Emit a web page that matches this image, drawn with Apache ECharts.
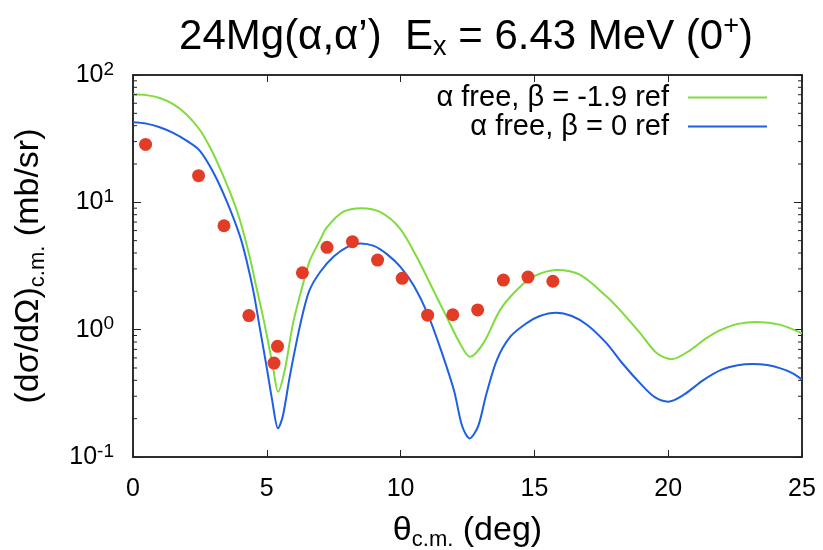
<!DOCTYPE html>
<html>
<head>
<meta charset="utf-8">
<script src="https://cdn.jsdelivr.net/npm/echarts@6/dist/echarts.min.js"></script>
<style>
  html, body { margin: 0; padding: 0; background: #fff; }
  #chart { width: 823px; height: 550px; }
</style>
</head>
<body>
<div id="chart"></div>
<script>
// Measured cross sections, 24Mg(α,α') to the 6.43 MeV 0+ state
const thetaExp = [0.47, 2.45, 3.40, 4.33, 5.27, 5.40, 6.33, 7.25, 8.20, 9.14, 10.06, 11.01, 11.95, 12.88, 13.84, 14.76, 15.69];
const sigmaExp = [28.5, 16.2, 6.55, 1.29, 0.547, 0.74, 2.80, 4.43, 4.91, 3.52, 2.53, 1.30, 1.31, 1.43, 2.45, 2.59, 2.40];

// Calculation: α free, β = -1.9 ref
const thetaGreen = [0, 0.5, 1.0, 1.5, 2.0, 2.5, 2.93, 3.3, 3.74, 4.0, 4.36, 4.6, 4.86, 5.05, 5.23, 5.42, 5.67, 5.98, 6.36, 6.61, 7.0, 7.23, 7.85, 8.54, 9.23, 9.97, 10.6, 11.22, 11.72, 12.22, 12.59, 13.09, 13.72, 14.34, 14.96, 15.84, 16.71, 17.71, 18.3, 18.96, 19.58, 20.14, 20.83, 21.4, 21.95, 22.6, 23.32, 24.2, 25];
const sigmaGreen = [70.5, 69.5, 66, 59, 49, 37, 25.8, 17.5, 10.4, 7.2, 3.74, 2.2, 1.26, 0.8, 0.51, 0.325, 0.48, 1.12, 2.31, 3.5, 5.1, 6.3, 8.4, 8.98, 8.4, 6.25, 3.74, 2.05, 1.26, 0.78, 0.612, 0.78, 1.43, 2.05, 2.61, 2.94, 2.69, 1.81, 1.35, 0.935, 0.652, 0.587, 0.692, 0.85, 0.993, 1.11, 1.15, 1.09, 0.935];

// Calculation: α free, β = 0 ref
const thetaBlue = [0, 0.5, 1.0, 1.5, 2.0, 2.5, 3.0, 3.5, 4.0, 4.25, 4.5, 4.75, 5.0, 5.2, 5.42, 5.6, 5.85, 6.1, 6.35, 6.6, 7.0, 7.5, 8.0, 8.5, 9.0, 9.5, 10.0, 10.5, 11.0, 11.5, 12.0, 12.3, 12.58, 12.9, 13.2, 13.6, 14.1, 14.7, 15.2, 15.8, 16.4, 17.0, 17.7, 18.3, 19.0, 19.5, 20.0, 20.6, 21.3, 22.0, 22.6, 23.15, 23.7, 24.2, 24.6, 25];
const sigmaBlue = [42.5, 41.5, 38.9, 35.1, 30.5, 25.4, 17.2, 10.2, 5.4, 3.45, 2.0, 1.0, 0.5, 0.28, 0.168, 0.21, 0.42, 0.78, 1.35, 2.05, 2.85, 3.75, 4.45, 4.76, 4.55, 3.9, 3.1, 2.2, 1.35, 0.7, 0.33, 0.175, 0.14, 0.175, 0.31, 0.58, 0.88, 1.12, 1.28, 1.36, 1.28, 1.08, 0.78, 0.54, 0.37, 0.295, 0.272, 0.31, 0.40, 0.485, 0.525, 0.537, 0.527, 0.497, 0.46, 0.407];

const legendNames = ['α free, β = -1.9 ref', 'α free, β = 0 ref'];
const xTicks = [0, 5, 10, 15, 20, 25];
const yDecades = [-1, 0, 1, 2];

const FONT = 'Liberation Sans';
const AXIS_COLOR = '#222';
const GREEN = '#7fdc3c';
const BLUE = '#1f5fe6';
const RED = '#e23b26';

function pairs(xs, ys) { return xs.map((x, i) => [x, ys[i]]); }

// minor log ticks at 2..9 of every decade
const minorTicks = [];
for (let d = yDecades[0]; d < yDecades[yDecades.length - 1]; d++) {
  for (let k = 2; k <= 9; k++) minorTicks.push([xTicks[0], k * Math.pow(10, d)]);
}

const chart = echarts.init(document.getElementById('chart'), null, { renderer: 'canvas' });

const axisLine = { show: true, onZero: false, lineStyle: { color: AXIS_COLOR, width: 1.5 } };
const tick = (len) => ({ show: true, inside: true, length: len, lineStyle: { color: AXIS_COLOR, width: 1 } });

chart.setOption({
  backgroundColor: '#fff',
  animation: false,
  title: {
    text: "{a|24Mg(α,α’)  E}{s|x}{a| = 6.43 MeV (0}{p|+}{a|)}",
    left: 461,
    textAlign: 'center',
    top: 8,
    textStyle: {
      fontWeight: 'normal',
      rich: {
        a: { fontFamily: FONT, fontSize: 42, fontWeight: 'normal', color: '#000', lineHeight: 48 },
        s: { fontFamily: FONT, fontSize: 27, fontWeight: 'normal', color: '#000', lineHeight: 20, verticalAlign: 'bottom' },
        p: { fontFamily: FONT, fontSize: 27, fontWeight: 'normal', color: '#000', lineHeight: 18, verticalAlign: 'top' }
      }
    }
  },
  grid: {
    left: 133, right: 21, top: 75, bottom: 93,
    containLabel: false, outerBoundsMode: 'none',
    show: true, borderColor: AXIS_COLOR, borderWidth: 1.5, backgroundColor: 'transparent'
  },
  legend: {
    data: legendNames,
    orient: 'vertical',
    align: 'right',
    right: 56,
    top: 83,
    padding: 0,
    icon: 'rect',
    itemWidth: 79,
    itemHeight: 2,
    itemGap: 0,
    textStyle: { fontFamily: FONT, fontSize: 29, color: '#000', lineHeight: 29, padding: [0, 14, 0, 0] }
  },
  xAxis: [{
    type: 'value',
    min: 0, max: 25, interval: 5,
    position: 'bottom',
    axisLine: axisLine,
    axisTick: tick(7),
    axisLabel: { fontFamily: FONT, fontSize: 25, color: '#000', margin: 20 },
    splitLine: { show: false },
    name: '{t|θ}{s|c.m.}{t| (deg)}',
    nameLocation: 'middle',
    nameGap: 54,
    nameTextStyle: {
      rich: {
        t: { fontFamily: FONT, fontSize: 34, color: '#000', lineHeight: 40 },
        s: { fontFamily: FONT, fontSize: 22, color: '#000', lineHeight: 18, verticalAlign: 'bottom' }
      }
    }
  }, {
    type: 'value',
    min: 0, max: 25, interval: 5,
    position: 'top',
    axisLine: axisLine,
    axisTick: tick(7),
    axisLabel: { show: false },
    splitLine: { show: false }
  }],
  yAxis: [{
    type: 'log',
    logBase: 10,
    min: 0.1, max: 100,
    position: 'left',
    axisLine: axisLine,
    axisTick: tick(8),
    axisLabel: {
      margin: 19,
      formatter: function (v) {
        const e = Math.round(Math.log10(v));
        return '{b|10}{e|' + e + '}';
      },
      rich: {
        b: { fontFamily: FONT, fontSize: 25, color: '#000', lineHeight: 30 },
        e: { fontFamily: FONT, fontSize: 19, color: '#000', lineHeight: 12, verticalAlign: 'top' }
      }
    },
    splitLine: { show: false },
    name: '{t|(dσ/dΩ)}{s|c.m.}{t| (mb/sr)}',
    nameLocation: 'middle',
    nameRotate: 90,
    nameGap: 84,
    nameTextStyle: {
      rich: {
        t: { fontFamily: FONT, fontSize: 34, color: '#000', lineHeight: 40 },
        s: { fontFamily: FONT, fontSize: 22, color: '#000', lineHeight: 18, verticalAlign: 'bottom' }
      }
    }
  }, {
    type: 'log',
    logBase: 10,
    min: 0.1, max: 100,
    position: 'right',
    axisLine: axisLine,
    axisTick: tick(8),
    axisLabel: { show: false },
    splitLine: { show: false }
  }],
  series: [{
    name: legendNames[0],
    type: 'line',
    data: pairs(thetaGreen, sigmaGreen),
    symbol: 'none',
    smooth: 0.3,
    lineStyle: { color: GREEN, width: 2 },
    itemStyle: { color: GREEN },
    z: 3
  }, {
    name: legendNames[1],
    type: 'line',
    data: pairs(thetaBlue, sigmaBlue),
    symbol: 'none',
    smooth: 0.3,
    lineStyle: { color: BLUE, width: 2 },
    itemStyle: { color: BLUE },
    z: 3
  }, {
    name: 'data',
    type: 'scatter',
    data: pairs(thetaExp, sigmaExp),
    symbol: 'circle',
    symbolSize: 13,
    itemStyle: { color: RED, opacity: 1 },
    z: 5
  }, {
    name: 'minor ticks',
    type: 'custom',
    silent: true,
    data: minorTicks,
    renderItem: function (params, api) {
      const v = api.value(1);
      const l = api.coord([xTicks[0], v]);
      const r = api.coord([xTicks[xTicks.length - 1], v]);
      const style = { stroke: AXIS_COLOR, lineWidth: 1 };
      return {
        type: 'group',
        children: [
          { type: 'line', shape: { x1: l[0], y1: l[1], x2: l[0] + 4, y2: l[1] }, style: style },
          { type: 'line', shape: { x1: r[0], y1: r[1], x2: r[0] - 4, y2: r[1] }, style: style }
        ]
      };
    },
    z: 4
  }]
});
</script>
</body>
</html>
